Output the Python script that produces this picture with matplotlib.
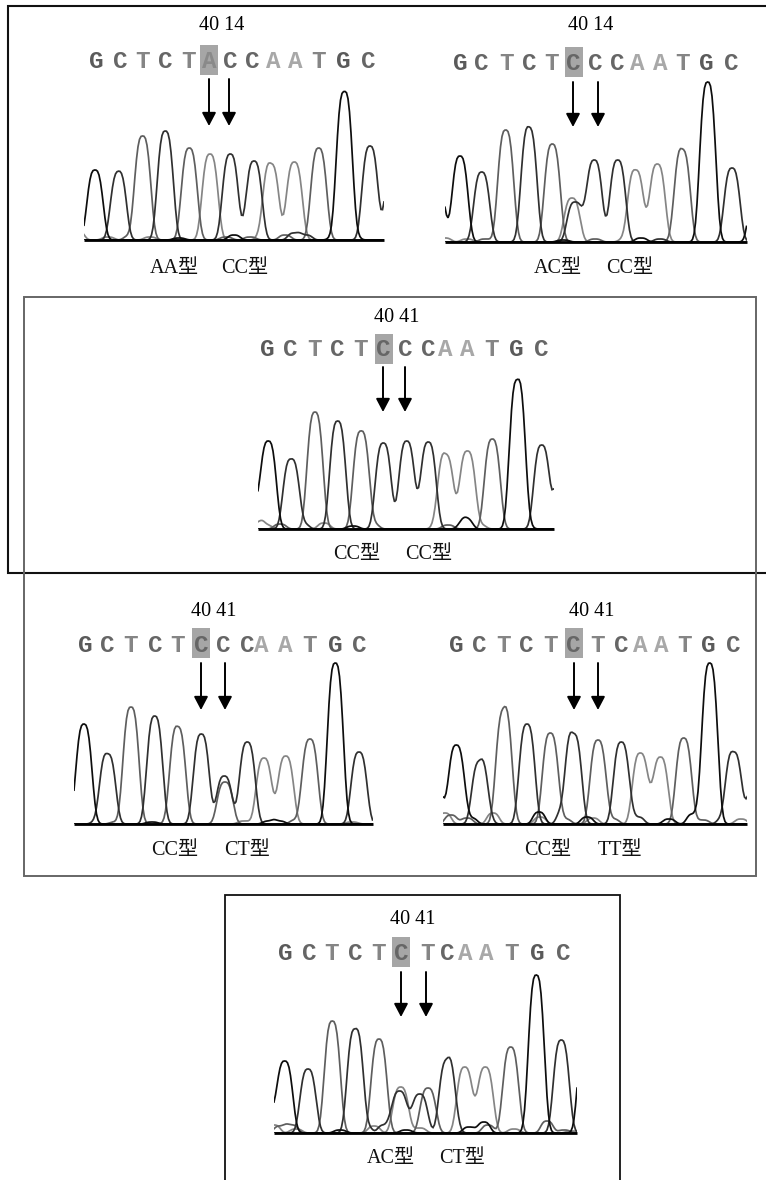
import numpy as np
import matplotlib
matplotlib.use("Agg")
import matplotlib.pyplot as plt
from matplotlib.patches import Rectangle

W, H = 766, 1180

SEQ_TOP = "GCTCTACCAATGC"
SEQ_P2 = "GCTCTCCCAATGC"
SEQ_P3 = "GCTCTCCCAATGC"
SEQ_P4 = "GCTCTCCCAATGC"
SEQ_P5 = "GCTCTCTCAATGC"
SEQ_P6 = "GCTCTCTCAATGC"

P1_BASES = "GCTCTACCAATGCC"
P1_X = [11, 34.3, 58.7, 81.3, 105.3, 126, 146.3, 170, 187, 210.3, 234.7, 260.3, 286, 309]
P1_Y = [70, 65, 104, 109, 92, 86, 86, 79, 76, 78, 92, 148, 94, 80]
P1_NB = "AACTAGTGTATCCGG"
P1_NX = [-6, 24, 37, 46, 66, 95, 142, 150, 166, 178, 201, 210, 222, 250, 270]
P1_NY = [9, 3, 4, 4, 3, 2, 3, 5, 3, 4, 5, 7, 5, 2, 3]

P2_BASES = "GGCTCTACCCAATGCG"
P2_X = [-8, 15, 36.7, 60.7, 84, 107.3, 127, 130, 149.3, 172.7, 190.7, 212.3, 237.3, 262.7, 287, 312]
P2_Y = [60, 86, 70, 112, 114, 98, 44, 40, 82, 82, 72, 78, 92, 160, 74, 60]
P2_NB = "AATCGTAGCT"
P2_NX = [0, 22, 40, 78, 118, 150, 180, 196, 215, 230]
P2_NY = [4, 3, 3, 2, 2, 3, 3, 4, 3, 3]

P3_BASES = "GGCTCTCCCAATGCC"
P3_X = [-8, 10.3, 33, 57, 79.7, 103, 125.3, 148.7, 170.3, 187.7, 209.3, 234.3, 259.3, 283.7, 305]
P3_Y = [25, 88, 70, 117, 108, 98, 86, 88, 84, 74, 78, 90, 149, 84, 75]
P3_NB = "AATCAGTCATGGAG"
P3_NX = [0, 8, 22, 45, 66, 95, 115, 170, 180, 190, 205, 209, 222, 268]
P3_NY = [6, 4, 5, 5, 6, 3, 5, 3, 4, 4, 4, 8, 4, 3]

P4_BASES = "GGCTCTCCTCAATGC"
P4_X = [-8, 10, 33.7, 57, 80.7, 103.7, 127.3, 150.3, 151, 173.3, 190, 211.7, 236, 261.3, 285]
P4_Y = [5, 98, 70, 117, 108, 97, 90, 45, 42, 82, 66, 68, 85, 161, 72]
P4_NB = "GCTGTCAGGTA"
P4_NX = [8, 24, 42, 78, 96, 150, 170, 195, 205, 222, 278]
P4_NY = [2, 3, 2, 2, 2, 3, 3, 3, 3, 4, 2]

P5_BASES = "GGCTCTCTCAATGCC"
P5_X = [-8, 13.3, 36.7, 60.7, 84, 107.3, 130.7, 155, 178.3, 197.3, 217.3, 240.7, 266.7, 290.7, 312]
P5_Y = [40, 79, 62, 111, 100, 91, 90, 84, 82, 71, 60, 86, 161, 72, 40]
P5_NB = "ATTGCATGACTGATCAGGTCA"
P5_NX = [2, 8, 24, 28, 44, 50, 66, 96, 97, 120, 122, 144, 150, 170, 195, 218, 226, 250, 260, 280, 298]
P5_NY = [11, 9, 6, 6, 5, 11, 8, 12, 7, 13, 5, 7, 6, 5, 7, 7, 5, 10, 4, 5, 5]

P6_BASES = "GGCTCTACCTCAATGCG"
P6_X = [-8, 10.7, 34, 58.3, 81, 105, 126.7, 125.5, 145.7, 154, 173, 190.7, 211.3, 236.7, 262.3, 287.3, 312]
P6_Y = [25, 72, 64, 112, 104, 94, 46, 42, 39, 45, 72, 66, 66, 86, 154, 93, 105]
P6_NB = "ATTAGCACGACGGTAGTTA"
P6_NX = [0, 6, 18, 22, 66, 92, 100, 110, 132, 146, 180, 195, 210, 214, 240, 262, 273, 290, 298]
P6_NY = [8, 7, 8, 4, 3, 6, 7, 8, 3, 5, 6, 6, 11, 8, 4, 4, 12, 3, 2]

TOP_TEXT = ["40 14", "40 14", "40 41", "40 41", "40 41", "40 41"]
GENO_A = ["AA型", "AC型", "CC型", "CC型", "CC型", "AC型"]
GENO_B = ["CC型", "CC型", "CC型", "CT型", "TT型", "CT型"]

TRACE_COL = {"G": "#0d0d0d", "C": "#303030", "T": "#5e5e5e", "A": "#858585"}
LETTER_COL = {"G": "#5a5a5a", "C": "#666666", "T": "#858585", "A": "#a8a8a8"}
PEAK_A = 9.5
NOISE_A = 7.5

PANELS = [
    dict(bases=P1_BASES, x=P1_X, y=P1_Y, nb=P1_NB, nx=P1_NX, ny=P1_NY, seq=SEQ_TOP,
         base=(84, 384, 240), title=(222, 26), org=60, sy=62,
         lx=[108, 180, 248, 316, 385, 447, 510, 578, 640, 705, 775, 850, 925],
         box=(200.3, 217.7, 45, 75), arrows=(209, 229), ay=(79, 126),
         gx=(174, 245), gy=269),
    dict(bases=P2_BASES, x=P2_X, y=P2_Y, nb=P2_NB, nx=P2_NX, ny=P2_NY, seq=SEQ_P2,
         base=(445, 747, 242), title=(591, 26), org=430, sy=63,
         lx=[90, 155, 228, 298, 365, 431, 497, 563, 622, 690, 757, 830, 905],
         box=(564.7, 582.7, 47, 77), arrows=(573, 598), ay=(82, 127),
         gx=(558, 630), gy=269),
    dict(bases=P3_BASES, x=P3_X, y=P3_Y, nb=P3_NB, nx=P3_NX, ny=P3_NY, seq=SEQ_P3,
         base=(258, 554, 529), title=(397, 317), org=240, sy=350,
         lx=[82, 152, 225, 292, 362, 430, 497, 565, 617, 682, 755, 830, 905],
         box=(374.7, 392.7, 334, 364), arrows=(383, 405), ay=(367, 412),
         gx=(357, 429), gy=554),
    dict(bases=P4_BASES, x=P4_X, y=P4_Y, nb=P4_NB, nx=P4_NX, ny=P4_NY, seq=SEQ_P4,
         base=(74, 373, 824), title=(214, 611), org=60, sy=645,
         lx=[75, 143, 213, 285, 352, 423, 490, 563, 605, 675, 748, 825, 897],
         box=(192.3, 210, 628, 658), arrows=(201, 225), ay=(663, 710),
         gx=(175, 247), gy=851),
    dict(bases=P5_BASES, x=P5_X, y=P5_Y, nb=P5_NB, nx=P5_NX, ny=P5_NY, seq=SEQ_P5,
         base=(443, 747, 824), title=(592, 611), org=430, sy=645,
         lx=[78, 148, 220, 290, 360, 431, 503, 575, 630, 695, 762, 835, 910],
         box=(564.7, 582.7, 628, 658), arrows=(574, 598), ay=(663, 710),
         gx=(548, 620), gy=851),
    dict(bases=P6_BASES, x=P6_X, y=P6_Y, nb=P6_NB, nx=P6_NX, ny=P6_NY, seq=SEQ_P6,
         base=(274, 577, 1133), title=(413, 919), org=220, sy=953,
         lx=[195, 268, 335, 405, 475, 543, 622, 682, 735, 800, 875, 953, 1030],
         box=(392.3, 410.3, 937, 967), arrows=(401, 426), ay=(972, 1017),
         gx=(391, 462), gy=1158),
]

LATIN_CJK = ["Liberation Serif", "Noto Sans CJK SC"]

fig = plt.figure(figsize=(W / 100, H / 100), dpi=100, facecolor="white")
page = fig.add_axes([0, 0, 1, 1])
page.set_xlim(0, W)
page.set_ylim(H, 0)
page.axis("off")

page.plot([770, 8, 8, 770], [6, 6, 573, 573], color="#111111", lw=1.5, solid_joinstyle="miter")
page.add_patch(Rectangle((24, 297), 732, 579, fill=False, ec="#666666", lw=1.4, zorder=3))
page.plot([225, 225, 620, 620], [1182, 895, 895, 1182], color="#111111", lw=1.3, solid_joinstyle="miter")


def trace(xs, grid, heights, code, bases, a):
    out = np.zeros_like(grid)
    for px, ph, b in zip(xs, heights, bases):
        if b == code:
            out += ph * np.exp(-(np.abs(grid - px) / a) ** 3)
    return out


for i, p in enumerate(PANELS):
    x0, x1, yb = p["base"]
    box = p["box"]
    page.add_patch(Rectangle((box[0], box[2]), box[1] - box[0], box[3] - box[2],
                             fc="#a6a6a6", ec="none", zorder=1))
    for k, (ch, zx) in enumerate(zip(p["seq"], p["lx"])):
        col = "#8a8a8a" if (ch == "A" and k == 5) else LETTER_COL[ch]
        page.text(p["org"] + zx / 3, p["sy"], ch, family="Liberation Mono", weight="bold",
                  fontsize=17.5, color=col, ha="center", va="center", zorder=2)
    page.text(p["title"][0], p["title"][1], TOP_TEXT[i], family="Liberation Serif",
              fontsize=14.5, color="black", ha="center", va="center")
    for ax_x in p["arrows"]:
        page.annotate("", xy=(ax_x, p["ay"][1]), xytext=(ax_x, p["ay"][0]),
                      arrowprops=dict(arrowstyle="-|>,head_length=0.8,head_width=0.42", color="black",
                                      lw=1.4, shrinkA=0, shrinkB=0, mutation_scale=10))
    page.text(p["gx"][0], p["gy"], GENO_A[i], family=LATIN_CJK, fontsize=14.5,
              ha="center", va="center", color="#111111")
    page.text(p["gx"][1], p["gy"], GENO_B[i], family=LATIN_CJK, fontsize=14.5,
              ha="center", va="center", color="#111111")

    height = 175
    ax = fig.add_axes([x0 / W, 1 - yb / H, (x1 - x0) / W, height / H])
    ax.set_xlim(0, x1 - x0)
    ax.set_ylim(0, height)
    ax.axis("off")
    ax.patch.set_alpha(0)
    grid = np.arange(0, x1 - x0 + 1.0, 1.5)
    for code in "ATCG":
        sig = (trace(p["x"], grid, p["y"], code, p["bases"], PEAK_A)
               + trace(p["nx"], grid, p["ny"], code, p["nb"], NOISE_A))
        ax.plot(grid, sig, color=TRACE_COL[code], lw=1.25, solid_joinstyle="miter")
    ax.plot([0, x1 - x0], [0, 0], color="black", lw=2, clip_on=False, solid_capstyle="butt")

fig.savefig("out.png", dpi=100)
